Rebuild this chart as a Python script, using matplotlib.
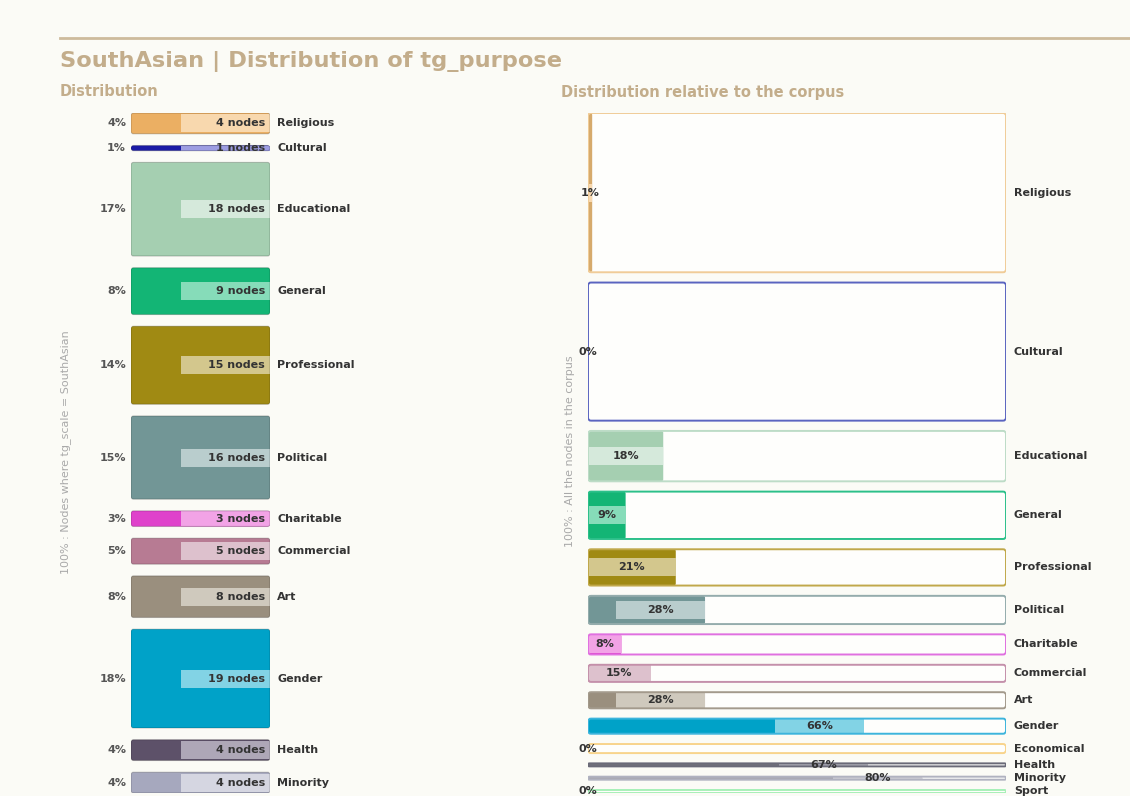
import matplotlib
matplotlib.use("Agg")
import matplotlib.pyplot as plt
from matplotlib.patches import FancyBboxPatch

# ---------------- data ----------------
left_categories = ["Religious", "Cultural", "Educational", "General", "Professional",
                   "Political", "Charitable", "Commercial", "Art", "Gender",
                   "Health", "Minority"]
left_nodes = [4, 1, 18, 9, 15, 16, 3, 5, 8, 19, 4, 4]
left_pct = [4, 1, 17, 8, 14, 15, 3, 5, 8, 18, 4, 4]

right_categories = ["Religious", "Cultural", "Educational", "General", "Professional",
                    "Political", "Charitable", "Commercial", "Art", "Gender",
                    "Economical", "Health", "Minority", "Sport"]
corpus_nodes = [316, 274, 100, 94, 72, 56, 40, 34, 32, 30, 18, 6, 6, 6]   # estimated
corpus_pct = [1, 0, 18, 9, 21, 28, 8, 15, 28, 66, 0, 67, 80, 0]

title = "SouthAsian | Distribution of tg_purpose"
left_title = "Distribution"
right_title = "Distribution relative to the corpus"
left_axis_label = "100% : Nodes where tg_scale = SouthAsian"
right_axis_label = "100% : All the nodes in the corpus"

dark = {"Religious": "#ebaf63", "Cultural": "#1b1ba6", "Educational": "#a5cfb1",
        "General": "#13b575", "Professional": "#a08a13", "Political": "#729696",
        "Charitable": "#df42cb", "Commercial": "#b77b93", "Art": "#9a8f7e",
        "Gender": "#00a2c8", "Economical": "#f0c070", "Health": "#5d5169",
        "Minority": "#a6a8be", "Sport": "#80e8a0"}
light = {"Religious": "#f8d8ae", "Cultural": "#9d9de2", "Educational": "#d5e9db",
         "General": "#86dcb9", "Professional": "#d3c78d", "Political": "#b9cdcd",
         "Charitable": "#f2a3e6", "Commercial": "#ddc1cd", "Art": "#cfc9bd",
         "Gender": "#82d3e5", "Economical": "#f8dca8", "Health": "#aea7b7",
         "Minority": "#d5d6e1", "Sport": "#c0f4cf"}
outline = {"Religious": "#f0cc98", "Cultural": "#5a64c0", "Educational": "#bddcc7",
           "General": "#2cc08a", "Professional": "#c0a84a", "Political": "#94acac",
           "Charitable": "#e070e0", "Commercial": "#c490aa", "Art": "#a39a8c",
           "Gender": "#3cb4dc", "Economical": "#f8d48c", "Health": "#6a6a78",
           "Minority": "#b0b2c0", "Sport": "#a8f0b8"}
right_fill = dict(dark)
right_fill["Religious"] = "#d6aa6c"
right_fill["Health"] = "#72727c"
right_fill["Minority"] = "#a8a8b2"
right_light = dict(light)
right_light["Health"] = "#b4b4bc"
right_light["Minority"] = "#cfcfd6"

# ---------------- figure ----------------
W, H = 1130, 796
BG = "#fbfbf6"
TAN = "#c3ad8b"
TXT = "#333333"
plt.rcParams["font.family"] = ["DejaVu Sans"]

fig = plt.figure(figsize=(W / 100, H / 100), dpi=100, facecolor=BG)


def px_axes(x0, y0, x1, y1):
    ax = fig.add_axes([x0 / W, 1 - y1 / H, (x1 - x0) / W, (y1 - y0) / H])
    ax.set_axis_off()
    ax.patch.set_alpha(0)
    return ax


def rbox(ax, x, y, w, h, sx, sy, r_px=2.5, **kw):
    if w <= 0 or h <= 0:
        return
    r = r_px / sx
    r = min(r, w / 2, h * sy / sx / 2)
    p = FancyBboxPatch((x, y), w, h, boxstyle=f"round,pad=0,rounding_size={r}",
                       mutation_aspect=sx / sy, **kw)
    ax.add_patch(p)


# header
fig.add_artist(plt.Line2D([60 / W, 1.0], [1 - 38 / H, 1 - 38 / H], color="#cdbb9c", lw=2))
fig.text(60 / W, 1 - 61 / H, title, color=TAN, fontsize=16.2, fontweight="bold", va="center")
fig.text(60 / W, 1 - 92 / H, left_title, color=TAN, fontsize=10.5, fontweight="bold", va="center")
fig.text(561 / W, 1 - 92 / H, right_title, color=TAN, fontsize=10.5, fontweight="bold", va="center")
fig.text(66 / W, 1 - 452 / H, left_axis_label, color="#a9a9a9", fontsize=8,
         rotation=90, ha="center", va="center")
fig.text(570 / W, 1 - 451 / H, right_axis_label, color="#a9a9a9", fontsize=8,
         rotation=90, ha="center", va="center")

FS = 8
BAND_PX = 89
BANDH_PX = 18

# ---------------- left panel ----------------
LX0, LX1, TOP, BOT = 131, 270, 113, 793
axl = px_axes(LX0, TOP, LX1, BOT)
gap_l = 2.25
tot_l = sum(left_nodes) + gap_l * (len(left_nodes) - 1)
axl.set_xlim(0, 1)
axl.set_ylim(tot_l, 0)
sx_l = LX1 - LX0
sy_l = (BOT - TOP) / tot_l
band_l = BAND_PX / sx_l
bandh_l = BANDH_PX / sy_l

y = 0.0
for cat, n, p in zip(left_categories, left_nodes, left_pct):
    yc = y + n / 2
    rbox(axl, 0, y, 1, n, sx_l, sy_l, fc=dark[cat], ec="none", zorder=2)
    bh = min(n, bandh_l)
    axl.add_patch(plt.Rectangle((1 - band_l, yc - bh / 2), band_l, bh,
                                fc=light[cat], ec="none", zorder=3))
    rbox(axl, 0, y, 1, n, sx_l, sy_l, fc="none", ec="#00000033", lw=0.8, zorder=4)
    axl.text(1 - 5 / sx_l, yc, f"{n} nodes", ha="right", va="center", fontsize=FS,
             fontweight="bold", color=TXT, zorder=5)
    axl.text(-5 / sx_l, yc, f"{p}%", ha="right", va="center", fontsize=FS,
             fontweight="bold", color="#555555", clip_on=False)
    axl.text(1 + 7 / sx_l, yc, cat, ha="left", va="center", fontsize=FS,
             fontweight="bold", color=TXT, clip_on=False)
    y += n + gap_l

# ---------------- right panel ----------------
RX0, RX1 = 588, 1006
axr = px_axes(RX0, TOP, RX1, BOT)
gap_r = 20.4
tot_r = sum(corpus_nodes) + gap_r * (len(corpus_nodes) - 1)
axr.set_xlim(0, 100)
axr.set_ylim(tot_r, 0)
sx_r = (RX1 - RX0) / 100
sy_r = (BOT - TOP) / tot_r
band_r = BAND_PX / sx_r
bandh_r = BANDH_PX / sy_r

y = 0.0
for cat, n, p in zip(right_categories, corpus_nodes, corpus_pct):
    yc = y + n / 2
    rbox(axr, 0, y, 100, n, sx_r, sy_r, r_px=3, fc="#fefefc", ec="none", zorder=1)
    rbox(axr, 0, y, p, n, sx_r, sy_r, r_px=2, fc=right_fill[cat], ec="none", zorder=2)
    b0 = max(0, p - band_r)
    bh = min(n, bandh_r)
    if p > 0:
        axr.add_patch(plt.Rectangle((b0, yc - bh / 2), p - b0, bh,
                                    fc=right_light[cat], ec="none", zorder=3))
    rbox(axr, 0, y, 100, n, sx_r, sy_r, r_px=3, fc="none", ec=outline[cat], lw=1.4, zorder=4)
    axr.text((b0 + p) / 2, yc, f"{p}%", ha="center", va="center", fontsize=FS,
             fontweight="bold", color=TXT, zorder=6, clip_on=False)
    axr.text(100 + 8 / sx_r, yc, cat, ha="left", va="center", fontsize=FS,
             fontweight="bold", color=TXT, clip_on=False)
    y += n + gap_r

fig.savefig("out.png", dpi=100, facecolor=BG)
